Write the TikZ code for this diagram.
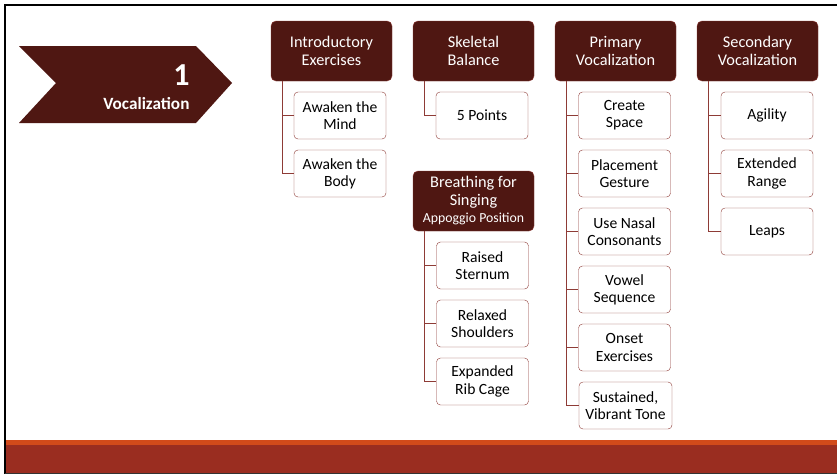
\documentclass[tikz,border=0pt]{standalone}
\usepackage{fontspec}
\setmainfont{Carlito}
\definecolor{maroon}{HTML}{4F1712}
\definecolor{boxline}{HTML}{8E3B36}
\definecolor{barorange}{HTML}{D24A1A}
\definecolor{barred}{HTML}{9A2D20}

\begin{document}
\begin{tikzpicture}[
    x=1pt, y=-1pt,
    topic/.style={rectangle, rounded corners=5pt, draw=boxline, fill=maroon,
        text=white, minimum width=121pt, minimum height=60pt, inner sep=2pt,
        align=center, font=\fontsize{16.3}{18}\selectfont},
    item/.style={rectangle, rounded corners=4pt, draw=boxline, fill=white,
        text=black, minimum width=92pt, minimum height=47pt, inner sep=2pt,
        align=center, font=\fontsize{15.6}{17.3}\selectfont},
    link/.style={draw=boxline, line width=1pt}
]
    \useasboundingbox (0,0) rectangle (837,474);
    % frame and footer
    \fill[white] (0,0) rectangle (837,474);
    \fill[barorange] (5,440) rectangle (837,445);
    \fill[barred] (5,445) rectangle (837,473);
    \draw[black, line width=2pt] (4,5) -- (837,5);
    \draw[black, line width=2pt] (5,4) -- (5,474);
    \draw[black!80, line width=1pt] (5,473.5) -- (837,473.5);

    % section chevron
    \fill[maroon] (19,46) -- (196,46) -- (232,83) -- (196,123) -- (19,123) -- (56,83) -- cycle;
    \node[text=white, font=\fontsize{32}{32}\selectfont\bfseries, anchor=east] (num) at (193,75) {1};
    \node[text=white, font=\fontsize{17.2}{18}\selectfont\bfseries, anchor=east] (sect) at (193,104) {Vocalization};

    % topic boxes
    \node[topic] (intro) at (331.5,51) {Introductory\\Exercises};
    \node[topic] (skel) at (473.5,51) {Skeletal\\Balance};
    \node[topic] (prim) at (615.5,51) {Primary\\Vocalization};
    \node[topic] (sec) at (757.5,51) {Secondary\\Vocalization};
    \node[topic] (breath) at (473.5,201) {Breathing for\\Singing\\[-1pt]{\fontsize{13.8}{15}\selectfont Appoggio Position}};

    % introductory exercises
    \node[item] (mind) at (340,115.5) {Awaken the\\Mind};
    \node[item] (body) at (340,173.5) {Awaken the\\Body};
    \draw[link] ([xshift=12pt]intro.south west) |- (mind.west);
    \draw[link] ([xshift=12pt]intro.south west) |- (body.west);

    % skeletal balance
    \node[item] (points) at (482,115.5) {5 Points};
    \draw[link] ([xshift=12pt]skel.south west) |- (points.west);

    % breathing
    \node[item] (sternum) at (482.5,265.5) {Raised\\Sternum};
    \node[item] (shoulders) at (482.5,323.5) {Relaxed\\Shoulders};
    \node[item] (ribcage) at (482.5,381.5) {Expanded\\Rib Cage};
    \draw[link] ([xshift=12pt]breath.south west) |- (sternum.west);
    \draw[link] ([xshift=12pt]breath.south west) |- (shoulders.west);
    \draw[link] ([xshift=12pt]breath.south west) |- (ribcage.west);

    % primary vocalization
    \node[item] (space) at (624.5,115.5) {Create\\Space};
    \node[item] (gesture) at (624.5,173.5) {Placement\\Gesture};
    \node[item] (nasal) at (624.5,231.5) {Use Nasal\\Consonants};
    \node[item] (vowel) at (624.5,289.5) {Vowel\\Sequence};
    \node[item] (onset) at (624.5,347.5) {Onset\\Exercises};
    \node[item, minimum width=93pt] (tone) at (625.5,405.5) {Sustained,\\Vibrant Tone};
    \draw[link] ([xshift=12pt]prim.south west) |- (space.west);
    \draw[link] ([xshift=12pt]prim.south west) |- (gesture.west);
    \draw[link] ([xshift=12pt]prim.south west) |- (nasal.west);
    \draw[link] ([xshift=12pt]prim.south west) |- (vowel.west);
    \draw[link] ([xshift=12pt]prim.south west) |- (onset.west);
    \draw[link] ([xshift=12pt]prim.south west) |- (tone.west);

    % secondary vocalization
    \node[item] (agility) at (767,115.5) {Agility};
    \node[item] (range) at (767,173.5) {Extended\\Range};
    \node[item] (leaps) at (767,231.5) {Leaps};
    \draw[link] ([xshift=12pt]sec.south west) |- (agility.west);
    \draw[link] ([xshift=12pt]sec.south west) |- (range.west);
    \draw[link] ([xshift=12pt]sec.south west) |- (leaps.west);
\end{tikzpicture}
\end{document}
